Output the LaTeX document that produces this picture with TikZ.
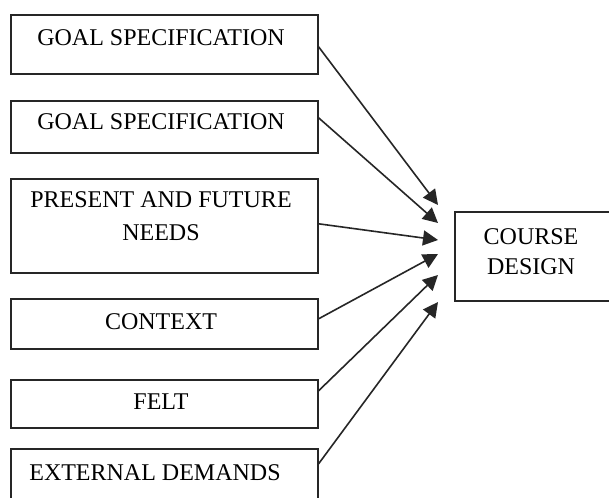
\documentclass[tikz,border=0pt]{standalone}
\usepackage{fontspec}
\setmainfont{Liberation Serif}
\usetikzlibrary{arrows.meta}
\tikzset{
  box/.style={draw=black!85, line width=0.8pt, rectangle, inner sep=0pt, anchor=north west, minimum width=153.5pt},
  lbl/.style={inner sep=0pt, align=center, font=\fontsize{12}{16.5}\selectfont, text=black},
  conn/.style={draw=black!85, line width=0.8pt, -{Triangle[length=7.5pt,width=7.5pt]}}
}
\begin{document}
\begin{tikzpicture}[x=0.5pt,y=-0.5pt]
\clip (0,0) rectangle (609,497);
\fill[white] (0,0) rectangle (609,497);
% left boxes
\node[box, minimum height=29.5pt] (b1) at (10,14) {};
\node[box, minimum height=26pt] (b2) at (10,100) {};
\node[box, minimum height=47pt] (b3) at (10,178) {};
\node[box, minimum height=25pt] (b4) at (10,298) {};
\node[box, minimum height=24pt] (b5) at (10,379) {};
\node[box, minimum height=32pt] (b6) at (10,448) {};
% target box
\node[box, minimum width=85pt, minimum height=44.5pt] (cd) at (454,211) {};
% labels
\node[lbl] (t1) at (161,38) {GOAL SPECIFICATION};
\node[lbl] (t2) at (161,122) {GOAL SPECIFICATION};
\node[lbl] (t3) at (161,216.5) {PRESENT AND FUTURE\\NEEDS};
\node[lbl] (t4) at (161,322) {CONTEXT};
\node[lbl] (t5) at (161,402) {FELT};
\node[lbl] (t6) at (155,473) {EXTERNAL DEMANDS};
\node[lbl, font=\fontsize{12}{15}\selectfont] (t7) at (531,252) {COURSE\\DESIGN};
% arrow tips
\coordinate (e1) at (438,205);
\coordinate (e2) at (438,223);
\coordinate (e3) at (438,240);
\coordinate (e4) at (438,254);
\coordinate (e5) at (438,275);
\coordinate (e6) at (438,302);
% connectors
\draw[conn] ([yshift=-1.25pt]b1.east) -- (e1);
\draw[conn] ([yshift=4.5pt]b2.east) -- (e2);
\draw[conn] ([yshift=1pt]b3.east) -- (e3);
\draw[conn] ([yshift=2.5pt]b4.east) -- (e4);
\draw[conn] ([yshift=6.5pt]b5.east) -- (e5);
\draw[conn] ([yshift=8.5pt]b6.east) -- (e6);
\end{tikzpicture}
\end{document}
